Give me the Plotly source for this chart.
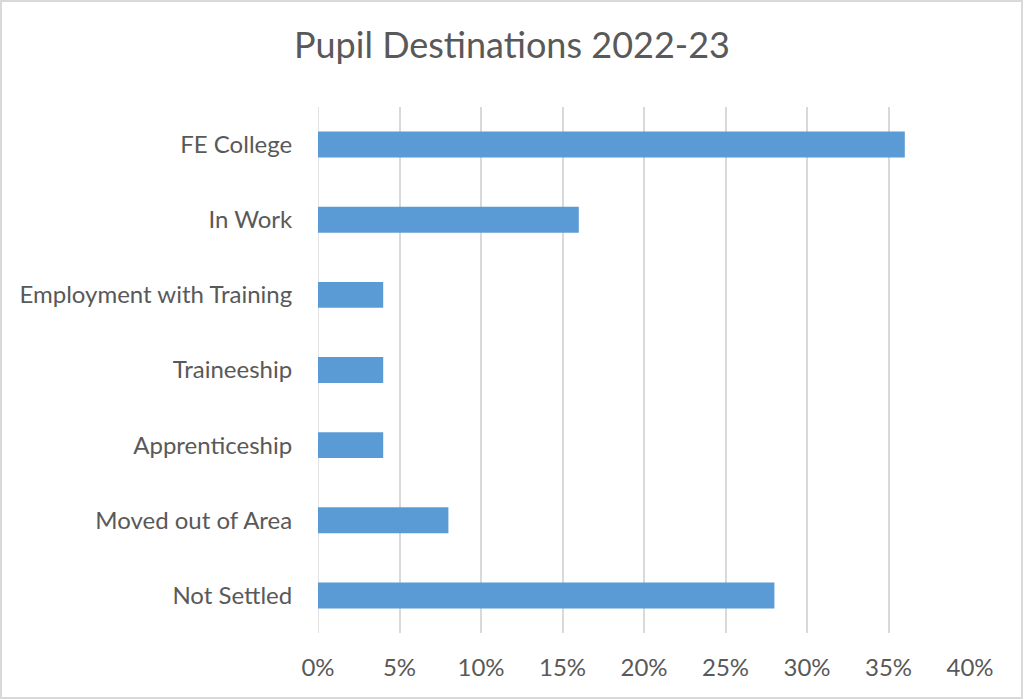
import plotly.graph_objects as go

# pupil destinations (share of leavers)
destinations = ["FE College", "In Work", "Employment with Training",
                "Traineeship", "Apprenticeship", "Moved out of Area",
                "Not Settled"]
shares = [0.36, 0.16, 0.04, 0.04, 0.04, 0.08, 0.28]
x_ticks = [0, 0.05, 0.10, 0.15, 0.20, 0.25, 0.30, 0.35, 0.40]

text_grey = '#595959'
grid_grey = '#d9d9d9'
font_name = 'Lato'

fig = go.Figure()
fig.add_trace(go.Bar(
    x=shares, y=destinations, orientation='h',
    marker=dict(color='#5b9bd5', line=dict(width=0)),
    hoverinfo='x+y'))

# margins chosen so the plot area sits where the Excel chart has it
fig.update_layout(
    width=1024, height=700,
    margin=dict(l=318, r=54, t=107, b=67),
    paper_bgcolor='white', plot_bgcolor='white',
    showlegend=False,
    bargap=0.655,
    font=dict(family=font_name, color=text_grey, size=24),
    title=dict(text='Pupil Destinations 2022-23',
               x=0.5, xanchor='center', y=1 - 45 / 700, yanchor='middle',
               font=dict(size=36, color=text_grey, family=font_name)),
)

fig.update_xaxes(
    range=[0, 0.40], tickvals=x_ticks, tickformat='.0%',
    showgrid=True, gridcolor=grid_grey, gridwidth=1.5,
    zeroline=False, showline=False,
    ticks='outside', ticklen=13, tickcolor='rgba(0,0,0,0)',
    tickfont=dict(size=24, color=text_grey))
fig.update_yaxes(
    autorange='reversed', showgrid=False, zeroline=False, showline=False,
    ticks='outside', ticklen=20, tickcolor='rgba(0,0,0,0)',
    tickfont=dict(size=24, color=text_grey))

# the chart's zero gridline and its outer frame
fig.add_shape(type='line', xref='x', yref='paper', x0=0, x1=0, y0=0, y1=1,
              line=dict(color=grid_grey, width=1.5), layer='below')
fig.add_shape(type='rect', xref='paper', yref='paper',
              x0=(1 - 318) / 652, x1=(1022 - 318) / 652,
              y0=(633 - 698) / 526, y1=(633 - 1) / 526,
              line=dict(color=grid_grey, width=2))

fig.write_html("out.html", config={'displayModeBar': False})

# drop the browser's default body margin so the chart sits at the page corner
with open("out.html", encoding="utf-8") as f:
    page = f.read()
page = page.replace("<body>", '<body style="margin:0">', 1)
with open("out.html", "w", encoding="utf-8") as f:
    f.write(page)
